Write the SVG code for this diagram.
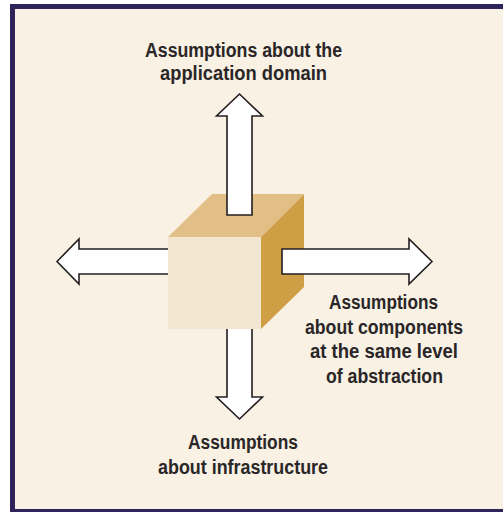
<svg xmlns="http://www.w3.org/2000/svg" width="503" height="512" viewBox="0 0 503 512">
<style>
.arrow{fill:#ffffff;stroke:#231f20;stroke-width:1.6;stroke-linejoin:miter}
.lbl{font-family:"Liberation Sans",Arial,sans-serif;font-weight:bold;font-size:20px;fill:#2a2627}
</style>
<rect x="0" y="0" width="503" height="512" fill="#ffffff"/>
<rect id="frame" x="12.5" y="6.5" width="500" height="505" fill="#f8f1e4" stroke="#2f2459" stroke-width="5"/>
<g id="connectors">
<polygon id="arrow-left" class="arrow" points="57,261.5 79,239 79,249 190,249 190,274 79,274 79,284"/>
<polygon id="arrow-down" class="arrow" points="227,300 252,300 252,397 262.5,397 239.5,419 216.5,397 227,397"/>
</g>
<g id="cube">
<polygon points="168,237 212,194 304,194 261,237" fill="#e2bf87"/>
<polygon points="261,237 304,194 304,287 261,329" fill="#cf9f45"/>
<rect x="168" y="237" width="93" height="92" fill="#f2e6d0"/>
</g>
<g id="connectors-front">
<polygon id="arrow-up" class="arrow" points="239.5,94 262.5,116 252,116 252,215 227,215 227,116 216.5,116"/>
<polygon id="arrow-right" class="arrow" points="282,249 409,249 409,239 432,261.5 409,284 409,274 282,274"/>
</g>
<g id="label-top">
<text class="lbl" x="145" y="57" textLength="197" lengthAdjust="spacingAndGlyphs">Assumptions about the</text>
<text class="lbl" x="160" y="80" textLength="167" lengthAdjust="spacingAndGlyphs">application domain</text>
</g>
<g id="label-right">
<text class="lbl" x="329" y="309" textLength="109" lengthAdjust="spacingAndGlyphs">Assumptions</text>
<text class="lbl" x="305" y="334" textLength="158" lengthAdjust="spacingAndGlyphs">about components</text>
<text class="lbl" x="310" y="358" textLength="148" lengthAdjust="spacingAndGlyphs">at the same level</text>
<text class="lbl" x="326" y="383" textLength="117" lengthAdjust="spacingAndGlyphs">of abstraction</text>
</g>
<g id="label-bottom">
<text class="lbl" x="188" y="449" textLength="110" lengthAdjust="spacingAndGlyphs">Assumptions</text>
<text class="lbl" x="158" y="474" textLength="170" lengthAdjust="spacingAndGlyphs">about infrastructure</text>
</g>
</svg>
